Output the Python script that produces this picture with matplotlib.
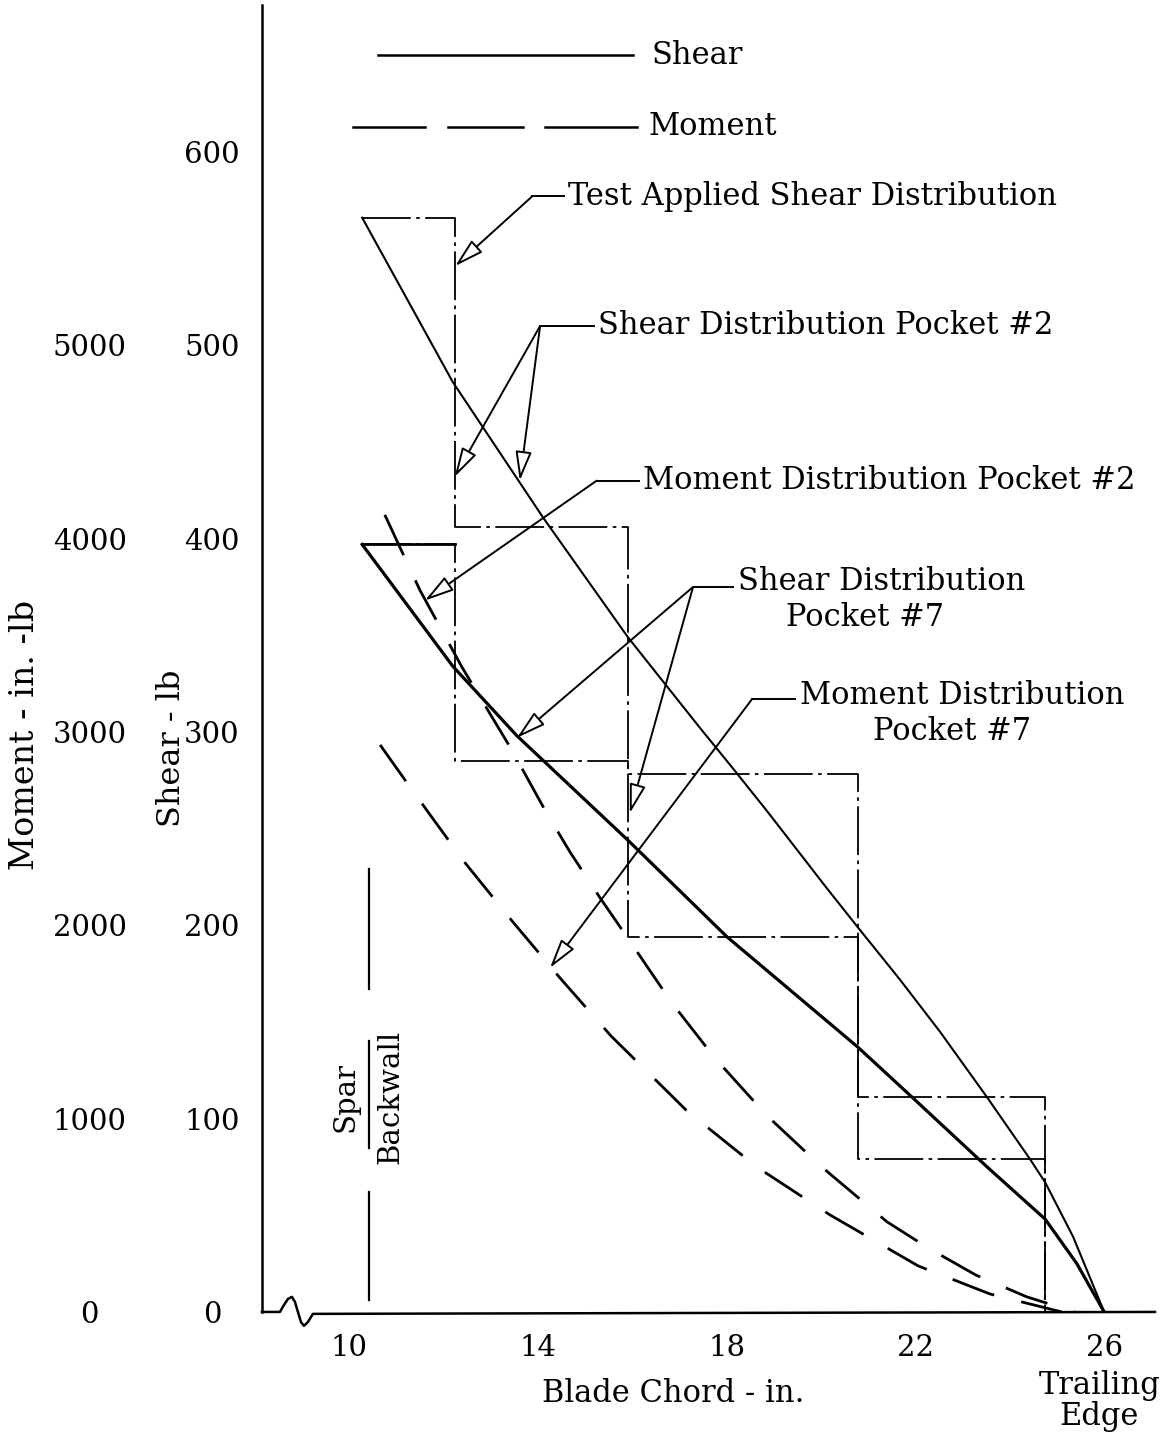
import numpy as np
import matplotlib.pyplot as plt

plt.rcParams["font.family"] = ["DejaVu Serif"]

# blade chord stations where the applied test shear steps
chord_edges = [10.28, 12.24, 15.91, 20.78, 24.75]
test_shear_p2 = [566, 406, 194, 79, 0]
test_shear_p7 = [397, 285, 278, 111, 0]

# shear distribution pocket #2 (thin solid)
shear_p2_x = [10.28, 12.2, 14.11, 15.91, 17.44, 18.14, 18.86, 20.13, 20.78, 21.67, 22.52, 23.52, 24.43, 24.75, 25.34, 26.0]
shear_p2_y = [566, 481, 411, 349, 302, 281, 259, 219, 199, 172, 145, 111, 79, 67, 39, 0]

# shear distribution pocket #7 (heavy solid)
shear_p7_x = [10.28, 12.2, 13.56, 15.91, 18.01, 20.78, 21.89, 23.52, 24.75, 25.42, 26.0]
shear_p7_y = [397, 334, 298, 244, 194, 137, 112, 75, 48, 25, 0]

# moment distribution pocket #2 (dashed), in.-lb
moment_p2_x = [10.76, 11.5, 12.39, 13.45, 14.15, 14.68, 15.32, 15.89, 16.84, 17.75, 18.86, 20.04, 21.4, 22.27, 23.28, 24.36, 25.38]
moment_p2_y = [4123, 3735, 3337, 2907, 2597, 2380, 2142, 1940, 1599, 1314, 1014, 745, 466, 331, 191, 78, 0]

# moment distribution pocket #7 (dashed), in.-lb
moment_p7_x = [10.66, 11.14, 11.72, 12.46, 13.47, 14.47, 15.55, 17.16, 18.64, 20.19, 22.06, 23.58, 25.1]
moment_p7_y = [2933, 2768, 2571, 2323, 2018, 1728, 1428, 1040, 750, 502, 238, 93, 0]

chord_ticks = [10, 14, 18, 22, 26]
shear_ticks = [0, 100, 200, 300, 400, 500, 600]
moment_ticks = [0, 1000, 2000, 3000, 4000, 5000]

fig = plt.figure(figsize=(11.71, 14.42), dpi=100)
ax = fig.add_axes([0.2237, 0.0902, 0.7626, 0.9063])
ax.set_xlim(8.157, 27.076)
ax.set_ylim(0, 676)

k = "black"
step_ls = (0, (27, 3, 2, 3))
ax.step(chord_edges, test_shear_p2, where="post", color=k, lw=1.3, ls=step_ls)
ax.step(chord_edges, test_shear_p7, where="post", color=k, lw=1.3, ls=step_ls)
ax.plot(chord_edges[:2], test_shear_p7[:1] * 2, color=k, lw=2)

ax.plot(shear_p2_x, shear_p2_y, color=k, lw=1.5)
ax.plot(shear_p7_x, shear_p7_y, color=k, lw=2.3)

# moments plotted on the shear scale (1 lb = 10 in.-lb)
ax.plot(moment_p2_x, np.array(moment_p2_y) / 10, color=k, lw=2, ls=(0, (16, 10)))
ax.plot(moment_p7_x, np.array(moment_p7_y) / 10, color=k, lw=2, ls=(0, (16, 10)))

# spar / backwall line
for y0, y1 in [(229, 167), (140, 85), (62, 6)]:
    ax.plot([10.42, 10.42], [y0, y1], color=k, lw=1.6)
ax.text(9.92, 111, "Spar", rotation=90, ha="center", va="center", fontsize=21)
ax.text(10.87, 111, "Backwall", rotation=90, ha="center", va="center", fontsize=21)

# legend drawn by hand
ax.plot([10.61, 16.02], [650, 650], color=k, lw=1.8)
for x0, x1 in [(10.085, 11.61), (12.10, 13.69), (14.15, 16.10)]:
    ax.plot([x0, x1], [613, 613], color=k, lw=1.8)
ax.text(16.42, 650, "Shear", ha="left", va="center", fontsize=22)
ax.text(16.35, 613, "Moment", ha="left", va="center", fontsize=22)

# callout labels
labels = [
    ("Test Applied Shear Distribution", 14.64, 577, "left"),
    ("Shear Distribution Pocket #2", 15.28, 510, "left"),
    ("Moment Distribution Pocket #2", 16.23, 430, "left"),
    ("Shear Distribution", 18.24, 378, "left"),
    ("Pocket #7", 20.93, 359, "center"),
    ("Moment Distribution", 19.56, 319, "left"),
    ("Pocket #7", 22.78, 300, "center"),
]
for label, tx, ty, ha in labels:
    ax.text(tx, ty, label, ha=ha, va="center", fontsize=22)

# leaders: horizontal run then arrows to the curves
arrow = dict(arrowstyle="-|>,head_length=0.9,head_width=0.25", fc="white", ec=k,
             lw=1.4, mutation_scale=20, shrinkA=0, shrinkB=0)
leaders = [
    ((13.88, 14.55, 577), [(12.25, 541)]),
    ((14.05, 15.2, 510), [(12.24, 432), (13.62, 430)]),
    ((15.25, 16.14, 430), [(11.61, 368)]),
    ((17.29, 18.13, 375), [(13.56, 297), (15.95, 258)]),
    ((18.54, 19.45, 317), [(14.26, 178)]),
]
for (lx0, lx1, ly), tips in leaders:
    ax.plot([lx0, lx1], [ly, ly], color=k, lw=1.4)
    for tip in tips:
        ax.annotate("", xy=tip, xytext=(lx0, ly), arrowprops=arrow)

# x axis with break symbol
brk_x = [8.157, 8.538, 8.623, 8.708, 8.792, 8.856, 8.919, 8.983, 9.047, 9.131, 9.237, 27.076]
brk_y = [0, 0, 3.6, 6.7, 7.8, 5.2, 0, -5.2, -7.2, -5.2, -1, 0]
ax.plot(brk_x, brk_y, color=k, lw=1.8, clip_on=False)

for s in ["top", "right", "bottom"]:
    ax.spines[s].set_visible(False)
ax.spines["left"].set_linewidth(1.8)

ax.set_xticks(chord_ticks)
ax.set_xticklabels([str(t) for t in chord_ticks])
ax.set_yticks(shear_ticks)
ax.set_yticklabels([str(t) for t in shear_ticks])
ax.tick_params(axis="x", length=0, pad=16, labelsize=21)
ax.tick_params(axis="y", length=0, pad=36, labelsize=21)
for t in ax.get_yticklabels():
    t.set_horizontalalignment("center")

sec = ax.secondary_yaxis("left", functions=(lambda s: s * 10, lambda m: m / 10))
sec.set_yticks(moment_ticks)
sec.set_yticklabels([str(t) for t in moment_ticks])
sec.tick_params(length=0, pad=124, labelsize=21)
sec.spines["left"].set_visible(False)
for t in sec.get_yticklabels():
    t.set_horizontalalignment("center")

fig.text(25 / 1171, 1 - 735 / 1442, "Moment - in. -lb", rotation=90, ha="center", va="center", fontsize=24)
fig.text(172 / 1171, 1 - 748 / 1442, "Shear - lb", rotation=90, ha="center", va="center", fontsize=23)
ax.text(16.86, -42, "Blade Chord - in.", ha="center", va="center", fontsize=22)
ax.text(25.9, -46, "Trailing\nEdge", ha="center", va="center", fontsize=22, linespacing=1.0)

fig.savefig("out.png", dpi=100)
